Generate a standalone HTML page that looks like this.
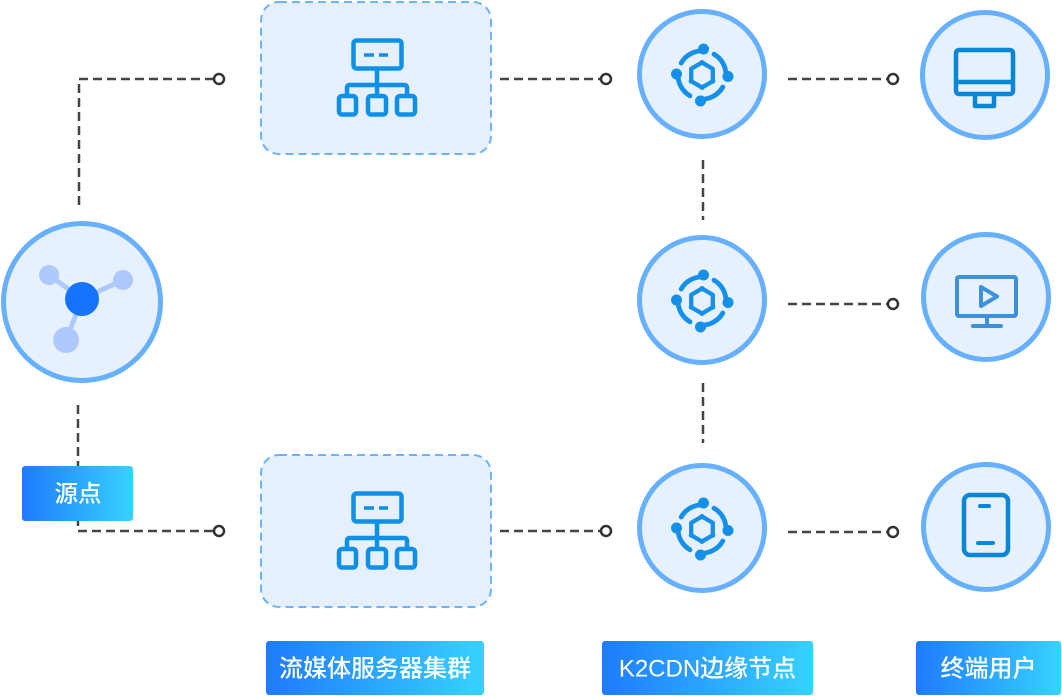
<!DOCTYPE html>
<html><head><meta charset="utf-8">
<style>
html,body{margin:0;padding:0;background:#fff;}
body{width:1062px;height:696px;overflow:hidden;}
svg{display:block;}
text{font-family:"Liberation Sans","Noto Sans CJK SC",sans-serif;font-weight:500;}
</style></head>
<body>
<svg width="1062" height="696" viewBox="0 0 1062 696" xmlns="http://www.w3.org/2000/svg">
<defs>
<linearGradient id="lg" x1="0" y1="0" x2="1" y2="0">
<stop offset="0" stop-color="#1f7bff"/>
<stop offset="1" stop-color="#37d2ff"/>
</linearGradient>
<g id="hier" fill="none" stroke="#0e90e6" stroke-width="4.5" stroke-linejoin="round">
<rect x="-22.5" y="-37.5" width="48" height="28" rx="3"/>
<line x1="-12" y1="-23" x2="-2" y2="-23" stroke-width="3.5"/>
<line x1="3" y1="-23" x2="12" y2="-23" stroke-width="3.5"/>
<path d="M1 -9 V7 M-29 18 V10 Q-29 7 -26 7 H28 Q31 7 31 10 V18 M1 7 V18"/>
<rect x="-37" y="18" width="17" height="18.5" rx="3"/>
<rect x="-8" y="18" width="18" height="18.5" rx="3"/>
<rect x="21" y="18" width="18" height="18.5" rx="3"/>
</g>
<g id="cdn">
<g fill="none" stroke="#1590e8" stroke-width="4.8" stroke-linecap="round">
<path d="M2.1 -24 A24 24 0 0 0 -20.8 -12"/>
<path d="M12 -20.8 A24 24 0 0 1 24 0"/>
<path d="M-2.1 24 A24 24 0 0 0 20.8 12"/>
<path d="M-24 0 A24 24 0 0 0 -12 20.8"/>
<polygon points="0,-12.5 10.8,-6.2 10.8,6.2 0,12.5 -10.8,6.2 -10.8,-6.2" stroke-linejoin="round" stroke-width="4.3"/>
</g>
<g fill="#1590e8">
<circle cx="1.5" cy="-26" r="5.5"/>
<circle cx="26" cy="1.5" r="5.5"/>
<circle cx="-1.5" cy="26" r="5.5"/>
<circle cx="-25.5" cy="-1" r="5.5"/>
<circle cx="0" cy="-12.5" r="2.5"/>
<circle cx="10.8" cy="6.2" r="2.5"/>
<circle cx="-10.8" cy="6.2" r="2.5"/>
<circle cx="0" cy="12.5" r="2.5"/>
</g>
</g>
</defs>

<!-- dashed connectors -->
<g fill="none" stroke="#454545" stroke-width="2.5" stroke-dasharray="9 5">
<path d="M79 205 V79 H213"/>
<path d="M78 405 V531 H213"/>
<path d="M500 79 H600"/>
<path d="M500 531 H600"/>
<path d="M788 79 H887"/>
<path d="M788 304 H887"/>
<path d="M788 532 H887"/>
<path d="M703 160 V220"/>
<path d="M703 383 V443"/>
</g>
<g fill="#fff" stroke="#333" stroke-width="2.5">
<circle cx="219" cy="79" r="5"/>
<circle cx="219" cy="531" r="5"/>
<circle cx="606" cy="79" r="5"/>
<circle cx="606" cy="531" r="5"/>
<circle cx="893" cy="79" r="5"/>
<circle cx="893" cy="304" r="5"/>
<circle cx="893" cy="532" r="5"/>
</g>

<!-- source circle -->
<circle cx="82" cy="302" r="78.5" fill="#e7f1fd" stroke="#67b0fd" stroke-width="5"/>
<g stroke="#aec9fd" stroke-width="5" stroke-linecap="round">
<line x1="82" y1="299" x2="49" y2="275"/>
<line x1="82" y1="299" x2="123" y2="280"/>
<line x1="82" y1="299" x2="66" y2="340"/>
</g>
<circle cx="49" cy="275" r="10" fill="#aec9fd"/>
<circle cx="123" cy="280" r="10" fill="#aec9fd"/>
<circle cx="66" cy="340" r="13" fill="#aec9fd"/>
<circle cx="82" cy="299" r="17" fill="#1573fe"/>

<!-- source label -->
<rect x="22" y="466" width="111" height="55" rx="3" fill="url(#lg)"/>
<text x="78" y="501.5" font-size="23.5" fill="#fff" text-anchor="middle">源点</text>

<!-- server boxes -->
<rect x="261" y="2" width="230" height="152" rx="18" fill="#e6f0fc" stroke="#6db3fb" stroke-width="2" stroke-dasharray="8 5"/>
<rect x="261" y="455" width="230" height="152" rx="18" fill="#e6f0fc" stroke="#6db3fb" stroke-width="2" stroke-dasharray="8 5"/>
<use href="#hier" x="376" y="78"/>
<use href="#hier" x="376" y="531"/>

<!-- CDN circles -->
<g fill="#e7f1fd" stroke="#67b0fd" stroke-width="5">
<circle cx="702" cy="74" r="62.5"/>
<circle cx="702" cy="300" r="62.5"/>
<circle cx="702" cy="528" r="62.5"/>
<circle cx="985" cy="75" r="62.5"/>
<circle cx="986" cy="297" r="62.5"/>
<circle cx="986" cy="527" r="62.5"/>
</g>
<use href="#cdn" x="702" y="75"/>
<use href="#cdn" x="702" y="301"/>
<use href="#cdn" x="702" y="529"/>

<!-- monitor -->
<g fill="none" stroke="#0a86d8" stroke-width="4.5" stroke-linejoin="round">
<rect x="956" y="50" width="57" height="44" rx="3"/>
<line x1="956" y1="82" x2="1013" y2="82"/>
<path d="M975 95 V106 H994 V95"/>
</g>
<!-- tv -->
<g fill="none" stroke="#3f90da" stroke-width="4" stroke-linejoin="round" stroke-linecap="round">
<rect x="957" y="277" width="59" height="39" rx="2"/>
<path d="M981 287 L997 296.5 L981 306 Z"/>
<line x1="987" y1="317" x2="987" y2="325"/>
<line x1="973" y1="326" x2="1001" y2="326"/>
</g>
<!-- phone -->
<g fill="none" stroke="#0a86d8" stroke-width="4.5" stroke-linecap="round">
<rect x="964" y="495" width="44" height="60" rx="6"/>
<line x1="980" y1="506" x2="989" y2="506" stroke-width="4"/>
<line x1="978" y1="543" x2="993" y2="543" stroke-width="4"/>
</g>

<!-- bottom labels -->
<rect x="266" y="641" width="218" height="54" rx="3" fill="url(#lg)"/>
<text x="375" y="676.5" font-size="24" fill="#fff" text-anchor="middle">流媒体服务器集群</text>
<rect x="602" y="641" width="211" height="54" rx="3" fill="url(#lg)"/>
<text x="707.5" y="676.5" font-size="24" fill="#fff" text-anchor="middle">K2CDN边缘节点</text>
<rect x="916" y="641" width="145" height="54" rx="3" fill="url(#lg)"/>
<text x="988.5" y="676.5" font-size="24" fill="#fff" text-anchor="middle">终端用户</text>
</svg>
</body></html>
